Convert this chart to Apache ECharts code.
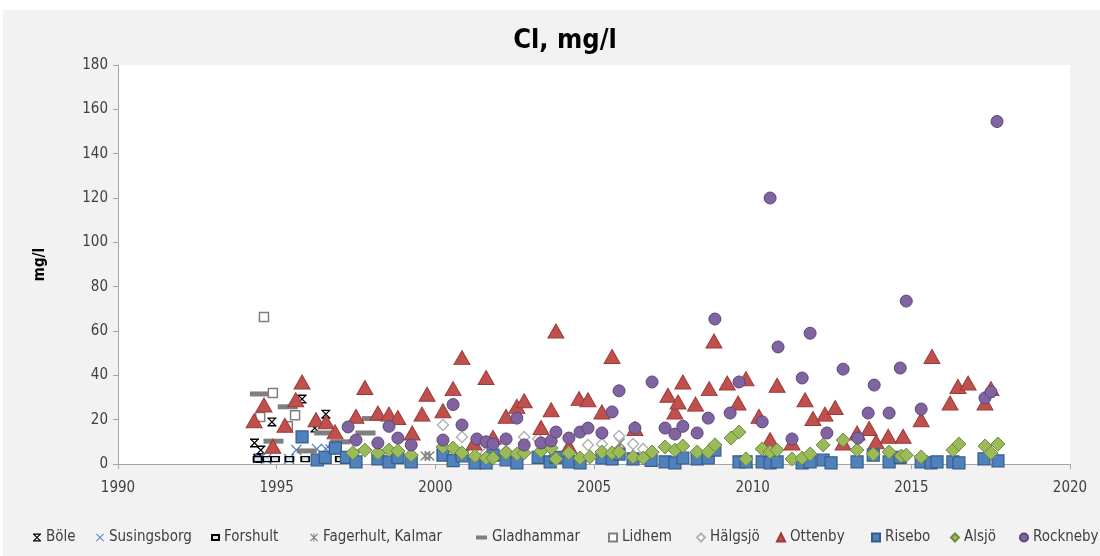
<!DOCTYPE html>
<html>
<head>
<meta charset="utf-8">
<script src="https://cdn.jsdelivr.net/npm/echarts@6/dist/echarts.min.js"></script>
<style>
  html, body { margin: 0; padding: 0; background: #fff; }
  #chart { width: 1100px; height: 556px; }
</style>
</head>
<body>
<div id="chart"></div>
<script>
// [year, mg/l] per station
const bole = [[1994.3, 9.5], [1994.5, 6.3], [1994.85, 19], [1995.8, 29.3], [1996.2, 16.2], [1996.55, 22.5], [1994.4, 2.5]];
const susingsborg = [[1994.45, 2.7], [1994.67, 2.3], [1995.39, 2.3], [1995.62, 6.3], [1996.27, 6.8], [1996.55, 6.8], [1996.7, 6.5]];
const forshult = [[1994.4, 2.2], [1994.7, 2.2], [1994.95, 2.2], [1995.4, 2.2], [1995.9, 2.2], [1996.99, 2.2], [1997.3, 2.3]];
const fagerhult = [[1997.47, 5], [1999.68, 3.6], [1999.82, 3.6], [2005.82, 9.5]];
const gladhammar = [[1994.47, 31.6], [1995.35, 25.8], [1994.9, 10.3], [1995.95, 5.9], [1996.5, 14], [1997.0, 10], [1997.8, 14], [1998.0, 20.5]];
const lidhem = [[1994.6, 66.3], [1994.88, 32], [1994.48, 21.2], [1995.58, 22], [1995.35, 17]];
const halgsjo = [[2000.24, 17.6], [2000.84, 12.2], [2001.6, 5], [2002.23, 6], [2002.8, 12.2], [2003.24, 11.3], [2004.21, 6], [2004.81, 8.6], [2005.25, 9], [2005.79, 12.6], [2006.23, 9], [2006.55, 6.8]];
const ottenby = [
  [1994.29, 19.5], [1994.6, 26.6], [1994.88, 8], [1995.26, 17.5], [1995.6, 29], [1995.8, 37],
  [1996.24, 20], [1996.56, 19], [1996.84, 14.5], [1997.5, 21.5], [1997.78, 34.5], [1998.19, 23],
  [1998.54, 22.5], [1998.82, 21], [1999.27, 14], [1999.58, 22.5], [1999.74, 31.5], [2000.24, 24],
  [2000.56, 34], [2000.84, 48], [2001.22, 9.5], [2001.6, 39], [2001.82, 12], [2002.23, 21.5],
  [2002.57, 26], [2002.8, 28.5], [2003.33, 16.5], [2003.65, 24.5], [2003.8, 60], [2004.21, 8],
  [2004.53, 29.5], [2004.81, 29], [2005.25, 23.5], [2005.57, 48.5], [2006.29, 16], [2007.33, 31],
  [2007.55, 23.5], [2007.65, 28], [2007.8, 37], [2008.2, 27], [2008.63, 34], [2008.78, 55.5],
  [2009.2, 36.5], [2009.54, 27.5], [2009.79, 38.5], [2010.2, 21.5], [2010.55, 11], [2010.77, 35.5],
  [2011.24, 9.5], [2011.65, 29], [2011.9, 20.5], [2012.28, 22.5], [2012.6, 25.5], [2012.85, 9.5],
  [2013.29, 14], [2013.67, 16], [2013.89, 10], [2014.27, 12.5], [2014.74, 12.5], [2015.31, 20],
  [2015.65, 48.5], [2016.22, 27.5], [2016.47, 35], [2016.79, 36.5], [2017.32, 27.5], [2017.51, 34]
];
const risebo = [
  [1995.8, 12.2], [1996.28, 1.8], [1996.53, 3], [1996.85, 7.2], [1997.2, 3], [1997.5, 1],
  [1998.19, 2.3], [1998.54, 1], [1998.82, 3], [1999.24, 1], [2000.24, 4], [2000.56, 1.5],
  [2000.84, 3.6], [2001.25, 0.5], [2001.6, 0.5], [2001.82, 4], [2002.23, 1.8], [2002.57, 0.5],
  [2003.24, 3], [2003.62, 1], [2003.8, 3], [2004.21, 1], [2004.56, 0.5], [2005.25, 2.7],
  [2005.57, 2.3], [2005.79, 4.5], [2006.23, 2.3], [2006.8, 1.6], [2007.24, 1], [2007.55, 0.5],
  [2007.8, 2.7], [2008.25, 2.3], [2008.6, 2.7], [2008.81, 6.3], [2009.57, 1], [2009.79, 1],
  [2010.3, 1], [2010.55, 0.5], [2010.77, 1], [2011.56, 0.5], [2011.81, 1], [2012.22, 1.8],
  [2012.47, 0.5], [2013.29, 1], [2013.8, 4], [2014.3, 1], [2014.65, 3], [2015.31, 1],
  [2015.62, 0.5], [2015.81, 1], [2016.31, 1], [2016.5, 0.5], [2017.29, 2.3], [2017.73, 1.4]
];
const alsjo = [
  [1997.4, 5], [1997.78, 6.3], [1998.19, 5], [1998.54, 6.3], [1998.82, 5.9], [1999.24, 4],
  [2000.24, 7.7], [2000.56, 7.2], [2000.84, 5], [2001.25, 3.6], [2001.6, 2.7], [2001.82, 2.7],
  [2002.23, 5], [2002.57, 4.5], [2002.8, 5], [2003.33, 5.9], [2003.65, 7.2], [2003.8, 2.3],
  [2004.21, 5], [2004.56, 2.7], [2004.87, 3.2], [2005.25, 5.4], [2005.57, 5], [2005.79, 5.4],
  [2006.23, 3.2], [2006.55, 2.7], [2006.83, 5.4], [2007.24, 7.7], [2007.55, 6.3], [2007.8, 8.1],
  [2008.25, 5.4], [2008.6, 5.4], [2008.81, 8.6], [2009.32, 11.7], [2009.57, 14.4], [2009.79, 2.3],
  [2010.3, 6.8], [2010.55, 5.4], [2010.77, 6.3], [2011.24, 2.3], [2011.56, 2.7], [2011.81, 4.5],
  [2012.22, 8.6], [2012.85, 10.8], [2013.29, 6.3], [2013.8, 4.5], [2014.3, 5.4], [2014.68, 3.6],
  [2014.84, 4], [2015.31, 3.2], [2016.31, 6.3], [2016.5, 9], [2017.32, 8.1], [2017.51, 5], [2017.73, 9]
];
const rockneby = [
  [1997.25, 16.7], [1997.5, 10.8], [1998.19, 9.5], [1998.54, 17], [1998.82, 11.7], [1999.24, 8.6],
  [2000.24, 10.8], [2000.56, 26.8], [2000.84, 17.6], [2001.31, 11.3], [2001.6, 10], [2001.82, 9],
  [2002.23, 11.3], [2002.57, 20.7], [2002.8, 8.6], [2003.33, 9.5], [2003.65, 10.4], [2003.8, 14.4],
  [2004.21, 11.7], [2004.56, 14.4], [2004.81, 16.2], [2005.25, 14], [2005.57, 23.5], [2005.79, 33],
  [2006.29, 16.2], [2006.83, 37], [2007.24, 16.2], [2007.55, 13.5], [2007.8, 17], [2008.25, 14],
  [2008.6, 20.7], [2008.81, 65.4], [2009.29, 23], [2009.57, 37], [2010.3, 19], [2010.55, 120],
  [2010.8, 52.8], [2011.24, 11.3], [2011.56, 38.8], [2011.81, 59], [2012.34, 14], [2012.85, 42.8],
  [2013.32, 11.7], [2013.64, 23], [2013.83, 35.6], [2014.3, 23], [2014.65, 43.3], [2014.84, 73.5],
  [2015.31, 24.8], [2017.32, 29.8], [2017.51, 32.5], [2017.7, 154.5]
];

const FONT = "'Liberation Sans Narrow', 'DejaVu Sans Condensed', 'Liberation Sans', sans-serif";

// marker shapes
const asteriskBars = "path://M0,1L1,0L10,9L9,10ZM9,0L10,1L1,10L0,9ZM0,0L10,0L10,1.6L0,1.6ZM0,8.4L10,8.4L10,10L0,10Z";
const asteriskVert = "path://M0,1L1,0L10,9L9,10ZM9,0L10,1L1,10L0,9ZM4.4,0L5.6,0L5.6,10L4.4,10Z";
const thinX = "path://M0,0.8L0.8,0L10,9.2L9.2,10ZM9.2,0L10,0.8L0.8,10L0,9.2Z";

function scatter(name, data, symbol, size, style) {
  return {
    name: name,
    type: "scatter",
    data: data,
    symbol: symbol,
    symbolSize: size,
    itemStyle: Object.assign({ opacity: 1 }, style),
    emphasis: { disabled: true },
  };
}

const series = [
  scatter("Böle", bole, asteriskBars, 9, { color: "#000" }),
  scatter("Susingsborg", susingsborg, thinX, 11, { color: "#4f81bd" }),
  scatter("Forshult", forshult, "rect", [8, 5], { color: "#dbe5f1", borderColor: "#000", borderWidth: 1.5 }),
  scatter("Fagerhult, Kalmar", fagerhult, asteriskVert, 10, { color: "#7f7f7f" }),
  scatter("Gladhammar", gladhammar, "rect", [20, 5], { color: "#7f7f7f" }),
  scatter("Lidhem", lidhem, "rect", 9, { color: "#fff", borderColor: "#7f7f7f", borderWidth: 1.5 }),
  scatter("Hälgsjö", halgsjo, "diamond", 11, { color: "#fff", borderColor: "#b3b3b3", borderWidth: 1.5 }),
  scatter("Ottenby", ottenby, "triangle", [16, 14], { color: "#c0504d", borderColor: "#9b3b38", borderWidth: 1 }),
  scatter("Risebo", risebo, "rect", 12, { color: "#4f81bd", borderColor: "#385d8a", borderWidth: 1.2 }),
  scatter("Alsjö", alsjo, "diamond", 14, { color: "#9bbb59", borderColor: "#71893f", borderWidth: 1 }),
  scatter("Rockneby", rockneby, "circle", 12, { color: "#8064a2", borderColor: "#5c4776", borderWidth: 1 }),
];

// one legend per item so each sits where it does in the picture
const legendLeft = [28, 91, 206, 305, 471, 603, 691, 771, 866, 945, 1014];
const legendIconSize = [[8, 8], [8, 8], [7, 5], [8, 8], [11, 4], [8, 8], [8, 8], [8, 8], [8, 8], [8, 8], [8, 8]];
const legends = series.map((s, i) => ({
  data: [s.name],
  left: legendLeft[i],
  top: 525,
  itemWidth: legendIconSize[i][0],
  itemHeight: legendIconSize[i][1],
  itemGap: 5,
  selectedMode: false,
  textStyle: { fontFamily: FONT, fontSize: 15, color: "#404040" },
}));

const chart = echarts.init(document.getElementById("chart"));
chart.setOption({
  animation: false,
  backgroundColor: "transparent",
  graphic: [
    {
      type: "rect",
      z: -10,
      silent: true,
      shape: { x: 3, y: 10, width: 1097, height: 546 },
      style: { fill: "#f2f2f2" },
    },
  ],
  title: {
    text: "Cl, mg/l",
    left: 560,
    top: 22,
    textAlign: "center",
    textStyle: { fontFamily: FONT, fontSize: 27, fontWeight: "bold", color: "#000" },
  },
  legend: legends,
  grid: {
    left: 118,
    right: 30,
    top: 65,
    bottom: 92,
    show: true,
    backgroundColor: "#fff",
    borderWidth: 0,
  },
  xAxis: {
    type: "value",
    min: 1990,
    max: 2020,
    interval: 5,
    axisLine: { show: true, lineStyle: { color: "#a6a6a6" } },
    axisTick: { show: true, length: 5, lineStyle: { color: "#a6a6a6" } },
    axisLabel: { fontFamily: FONT, fontSize: 15, color: "#404040", margin: 17, formatter: (v) => String(v) },
    splitLine: { show: false },
  },
  yAxis: {
    type: "value",
    min: 0,
    max: 180,
    interval: 20,
    name: "mg/l",
    nameLocation: "middle",
    nameGap: 70,
    nameTextStyle: { fontFamily: FONT, fontSize: 15, fontWeight: "bold", color: "#000" },
    axisLine: { show: true, lineStyle: { color: "#a6a6a6" } },
    axisTick: { show: true, length: 5, lineStyle: { color: "#a6a6a6" } },
    axisLabel: { fontFamily: FONT, fontSize: 15, color: "#404040", margin: 10 },
    splitLine: { show: false },
  },
  series: series,
});
</script>
</body>
</html>
